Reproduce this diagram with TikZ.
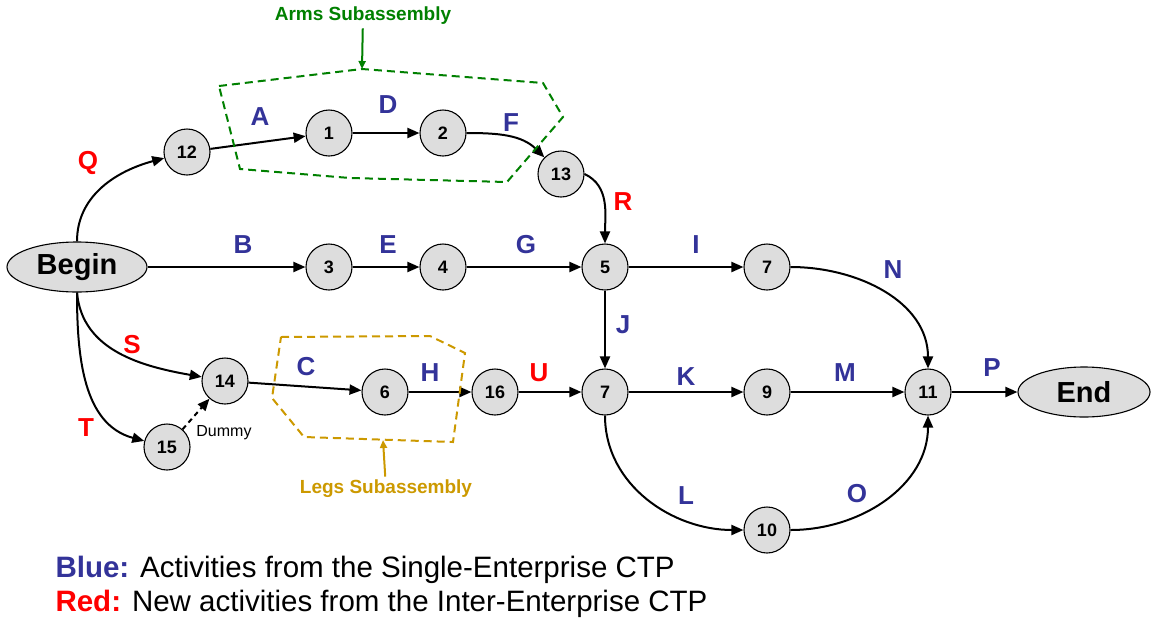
\documentclass[tikz,border=0pt]{standalone}
\usepackage{fontspec}
\setmainfont{Liberation Sans}
\usetikzlibrary{arrows.meta,shapes.geometric}
\definecolor{ctpblue}{RGB}{51,51,153}
\definecolor{armsgreen}{RGB}{0,128,0}
\definecolor{legsgold}{RGB}{204,153,0}
\definecolor{eventgray}{RGB}{221,221,221}
\newcommand*{\px}[1]{\fontsize{#1}{#1}\selectfont}

\tikzset{
  event/.style={circle, draw, line width=1.1pt, fill=eventgray, minimum size=46pt,
    inner sep=0pt, font=\px{18}\bfseries},
  terminal/.style={ellipse, draw, line width=1.1pt, fill=eventgray, minimum width=140pt,
    minimum height=50pt, inner sep=0pt, font=\px{29}\bfseries},
  act/.style={line width=2pt, -{Triangle[length=12pt,width=10pt]}},
  single/.style={text=ctpblue, font=\px{26}\bfseries},
  inter/.style={text=red, font=\px{26}\bfseries},
  subassy/.style={dashed, line width=2pt, dash pattern=on 8pt off 5pt}
}

\begin{document}
\begin{tikzpicture}[x=1pt, y=1pt]
  \useasboundingbox (0,0) rectangle (1154,-622);

  \node[terminal] (begin) at (77,-267) {Begin};
  \node[terminal, minimum width=132pt] (end) at (1084,-392) {End};

  \foreach \i/\x/\y in {12/187/152, 1/329/133, 2/443/133, 13/561/174,
                        3/329/267, 4/443/267, 5/605/267,
                        14/225/381, 15/167/447, 6/385/392, 16/495/392,
                        9/767/392, 11/928/392, 10/767/530}
  {
    \node[event] (e\i) at (\x,-\y) {\i};
  }
  \node[event] (e7a) at (767,-267) {7};
  \node[event] (e7b) at (605,-392) {7};

  \draw[act]
    (begin.north) to[out=90, in=195] (e12);
  \draw[act]
    (e12) -- (e1);
  \draw[act]
    (e1) -- (e2);
  \draw[act]
    (e2) to[out=0, in=135] (e13);
  \draw[act]
    (e13.east) to[out=-25, in=90] (e5);
  \draw[act]
    (begin) -- (e3);
  \draw[act]
    (e3) -- (e4);
  \draw[act]
    (e4) -- (e5);
  \draw[act]
    (e5) -- (e7a);
  \draw[act]
    (e7a) to[out=0, in=90] (e11);
  \draw[act]
    (e5) -- (e7b);
  \draw[act]
    (begin.south) to[out=-85, in=170] (e14);
  \draw[act]
    (begin.south) to[out=-90, in=165] (e15);
  \draw[act]
    (e14) -- (e6);
  \draw[act]
    (e6) -- (e16);
  \draw[act]
    (e16) -- (e7b);
  \draw[act]
    (e7b) -- (e9);
  \draw[act]
    (e9) -- (e11);
  \draw[act]
    (e11) -- (end);
  \draw[act]
    (e7b) to[out=-90, in=180] (e10);
  \draw[act]
    (e10) to[out=0, in=-90] (e11);
  \draw[act, dashed, dash pattern=on 5pt off 4pt]
    (e15) -- (e14);
  \node[font=\px{16}] (dummy) at (224,-433) {Dummy};

  \foreach \a/\x/\y in {A/260/117, D/388/105, F/511/123, B/243/245, E/388/245,
                        G/526/245, I/696/245, N/893/270, J/623/325, C/306/367,
                        H/430/373, K/686/377, M/845/373, P/992/368, L/686/496,
                        O/857/494}
  {
    \node[single] (l\a) at (\x,-\y) {\a};
  }
  \foreach \a/\x/\y in {Q/88/163, R/623/202, S/132/345, T/86/428, U/539/373}
  {
    \node[inter] (l\a) at (\x,-\y) {\a};
  }

  \draw[subassy, armsgreen]
    (219,-86) -- (362,-69) -- (543,-83) -- (563,-117) -- (507,-182)
    -- (350,-178) -- (240,-169) -- cycle;
  \coordinate (armstop) at (362,-69);
  \node[text=armsgreen, font=\px{19}\bfseries] (arms) at (363,-16) {Arms Subassembly};
  \draw[armsgreen, line width=2pt, -{Triangle[length=8pt,width=7pt]}]
    (arms) -- (armstop);

  \draw[subassy, legsgold]
    (281,-337) -- (430,-336) -- (465,-353) -- (453,-442) -- (304,-437)
    -- (272,-398) -- cycle;
  \coordinate (legsbot) at (383,-440);
  \node[text=legsgold, font=\px{19}\bfseries] (legs) at (386,-489) {Legs Subassembly};
  \draw[legsgold, line width=2pt, -{Triangle[length=8pt,width=7pt]}]
    (legs) -- (legsbot);

  \node[anchor=west, font=\px{29.5}] (keyblue) at (52,-570)
    {\textcolor{ctpblue}{\bfseries Blue:} Activities from the Single-Enterprise CTP};
  \node[anchor=west, font=\px{29.5}] (keyred) at (52,-604)
    {\textcolor{red}{\bfseries Red:} New activities from the Inter-Enterprise CTP};
\end{tikzpicture}
\end{document}
